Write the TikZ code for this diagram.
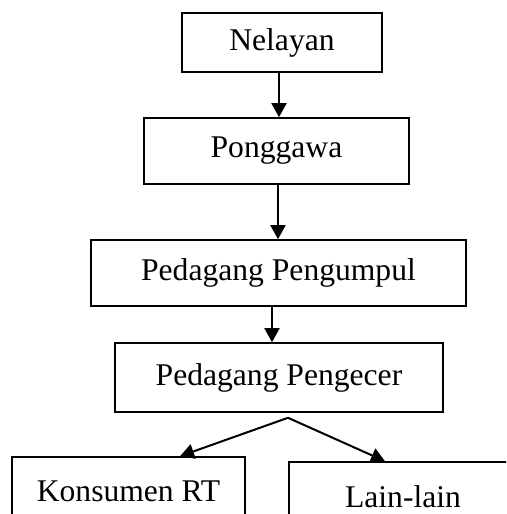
\documentclass[tikz,border=0pt]{standalone}
\usepackage{fontspec}
\setmainfont{Liberation Serif}
\usetikzlibrary{arrows.meta}

\begin{document}
\begin{tikzpicture}[x=1pt, y=1pt,
  box/.style={draw, line width=1.6pt, inner sep=0pt,
    font=\fontsize{31.6}{38}\selectfont},
  arr/.style={line width=2pt, -{Triangle[length=14pt, width=15pt]}}]
  \useasboundingbox (0,0) rectangle (506,514);
  \clip (0,0) rectangle (506,514);
  \node[box, minimum width=200pt, minimum height=59pt] (nelayan) at (282,471.5) {Nelayan};
  \node[box, minimum width=265pt, minimum height=66pt] (ponggawa) at (276.5,363) {Ponggawa};
  \node[box, minimum width=375pt, minimum height=66pt] (pengumpul) at (278.5,241) {Pedagang Pengumpul};
  \node[box, minimum width=328pt, minimum height=69pt] (pengecer) at (279,136.5) {Pedagang Pengecer};
  \node[box, minimum width=233pt, minimum height=69pt] (konsumen) at (128.5,22.5) {Konsumen RT};
  \node[box, minimum width=228pt, minimum height=69pt] (lain) at (403,17.5) {Lain-lain};
  \coordinate (split) at ([shift={(9pt,-5pt)}]pengecer.south);
  \draw[arr] ([xshift=-3pt]nelayan.south) -- ([xshift=-3pt]nelayan.south |- ponggawa.north);
  \draw[arr] ([xshift=1.5pt]ponggawa.south) -- ([xshift=1.5pt]ponggawa.south |- pengumpul.north);
  \draw[arr] ([xshift=-6.5pt]pengumpul.south) -- ([xshift=-6.5pt]pengumpul.south |- pengecer.north);
  \draw[arr] (split) -- ([xshift=51.5pt]konsumen.north);
  \draw[arr] (split) -- ([xshift=-18pt]lain.north);
\end{tikzpicture}
\end{document}
